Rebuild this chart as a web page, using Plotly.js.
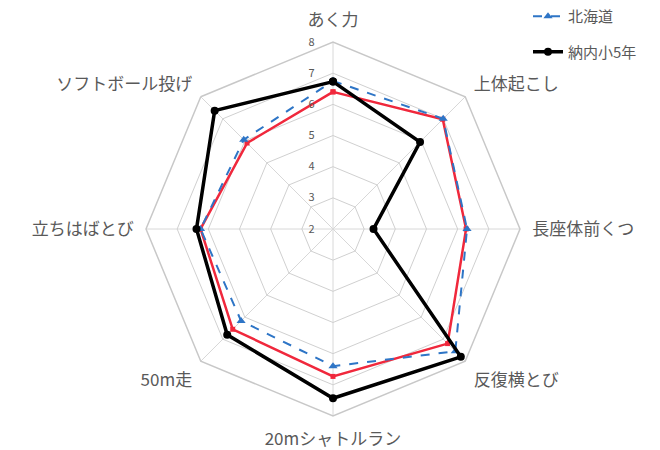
<!DOCTYPE html>
<html><head><meta charset="utf-8">
<script src="https://cdn.plot.ly/plotly-3.0.1.min.js"></script>
<style>body{margin:0;background:#fff}#chart{width:660px;height:450px}</style>
</head><body><div id="chart"></div>
<script>
const categories = ["あく力","上体起こし","長座体前くつ","反復横とび","20mシャトルラン","50m走","立ちはばとび","ソフトボール投げ"];
const zenkoku = [6.4, 6.98, 6.27, 7.2, 6.73, 6.55, 6.25, 5.9];
const hokkaido = [6.75, 7.0, 6.3, 7.55, 6.4, 6.17, 6.25, 6.05];
const nanai = [6.73, 5.95, 3.3, 7.8, 7.43, 6.8, 6.38, 7.37];
const tickVals = [2,3,4,5,6,7,8];

function closeArr(a){return a.concat([a[0]]);}
const theta = closeArr(categories);

const traces = [
  {type:'scatterpolar', name:'全国', r:closeArr(zenkoku), theta:theta, mode:'lines+markers',
   line:{color:'#f0283c', width:2.5}, marker:{symbol:'square', size:5, color:'#f0283c'},
   showlegend:false, legendgroup:'a'},
  {type:'scatterpolar', name:'北海道', r:closeArr(hokkaido), theta:theta, mode:'lines+markers',
   line:{color:'#2e75c6', width:2, dash:'dash'}, marker:{symbol:'triangle-up', size:8, color:'#2e75c6'},
   legendgroup:'b'},
  {type:'scatterpolar', name:'納内小5年', r:closeArr(nanai), theta:theta, mode:'lines+markers',
   line:{color:'#000000', width:3.5}, marker:{symbol:'circle', size:8, color:'#000000'},
   legendgroup:'c'}
];

const layout = {
  width:660, height:450,
  margin:{l:0,r:0,t:0,b:0},
  paper_bgcolor:'#fff',
  font:{family:'"Noto Sans CJK JP", "Noto Sans", sans-serif', color:'#595959'},
  showlegend:true,
  legend:{x:0.80, y:1.0, xanchor:'left', yanchor:'top', tracegroupgap:13,
          font:{size:15, color:'#595959'}, bgcolor:'rgba(0,0,0,0)'},
  polar:{
    domain:{x:[146/660, 520/660], y:[1-416/450, 1-42/450]},
    gridshape:'linear',
    bgcolor:'#fff',
    radialaxis:{range:[2,8], tickvals:tickVals, angle:90, showline:false,
      gridcolor:'#d0d0d0', gridwidth:1.2, ticks:'outside', ticklen:14, tickcolor:'rgba(0,0,0,0)',
      tickfont:{size:11, color:'#595959'}, side:'counterclockwise', tickangle:90},
    angularaxis:{direction:'clockwise', rotation:90, showline:true, linecolor:'#c8c8c8', linewidth:1.5,
      gridcolor:'#d8d8d8', ticks:'outside', ticklen:8, tickcolor:'rgba(0,0,0,0)',
      tickfont:{size:17, color:'#595959'}}
  }
};

Plotly.newPlot('chart', traces, layout, {displayModeBar:false});
</script>
</body></html>
